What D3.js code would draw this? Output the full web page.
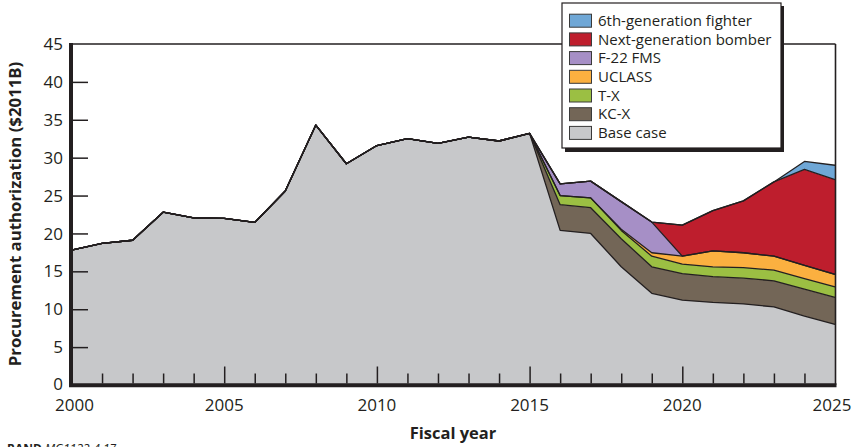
<!DOCTYPE html>
<html>
<head>
<meta charset="utf-8">
<script src="https://cdn.jsdelivr.net/npm/d3@7"></script>
<style>
  html, body { margin: 0; padding: 0; background: #fff; }
  svg { display: block; font-family: "Open Sans", "Noto Sans", sans-serif; }
</style>
</head>
<body>
<svg id="chart" width="856" height="447"></svg>
<script>
// ---- Data ----
const years = d3.range(2000, 2026);
const baseCase = [17.8, 18.7, 19.1, 22.8, 22.05, 22.0, 21.45, 25.6, 34.3, 29.2, 31.6, 32.5, 31.9, 32.7, 32.2, 33.2,
                  20.4, 20.0, 15.6, 12.1, 11.2, 10.9, 10.7, 10.3, 9.1, 8.0];
const kcx      = [0,0,0,0,0,0,0,0,0,0,0,0,0,0,0,0, 3.4, 3.4, 3.7, 3.5, 3.5, 3.4, 3.4, 3.45, 3.55, 3.55];
const tx       = [0,0,0,0,0,0,0,0,0,0,0,0,0,0,0,0, 1.2, 1.3, 1.1, 1.4, 1.25, 1.3, 1.4, 1.4, 1.4, 1.4];
const uclass   = [0,0,0,0,0,0,0,0,0,0,0,0,0,0,0,0, 0, 0, 0.15, 0.45, 1.05, 2.1, 1.95, 1.85, 1.75, 1.65];
const f22fms   = [0,0,0,0,0,0,0,0,0,0,0,0,0,0,0,0, 1.55, 2.2, 3.65, 4.05, 0, 0, 0, 0, 0, 0];
const bomber   = [0,0,0,0,0,0,0,0,0,0,0,0,0,0,0,0, 0, 0, 0, 0, 4.1, 5.3, 6.85, 9.8, 12.65, 12.5];
const fighter  = [0,0,0,0,0,0,0,0,0,0,0,0,0,0,0,0, 0, 0, 0, 0, 0, 0, 0, 0, 1.05, 1.9];

const seriesKeys   = ["base", "kcx", "tx", "uclass", "f22", "bomber", "fighter"];
const seriesNames  = ["Base case", "KC-X", "T-X", "UCLASS", "F-22 FMS", "Next-generation bomber", "6th-generation fighter"];
const seriesColors = ["#c7c8ca", "#736657", "#9bbf43", "#fbb040", "#a68fc6", "#be1e2d", "#6fa7d6"];
const seriesValues = [baseCase, kcx, tx, uclass, f22fms, bomber, fighter];

const yTicks = [0, 5, 10, 15, 20, 25, 30, 35, 40, 45];
const xLabels = [2000, 2005, 2010, 2015, 2020, 2025];

// ---- Build table ----
const table = years.map((yr, i) => {
  const row = { year: yr };
  seriesKeys.forEach((k, j) => row[k] = seriesValues[j][i]);
  return row;
});

const svg = d3.select("#chart");
const x = d3.scaleLinear().domain([2000, 2025]).range([71.5, 835]);
const y = d3.scaleLinear().domain([0, 45]).range([385, 44]);

const stacked = d3.stack().keys(seriesKeys)(table);

const area = d3.area()
  .x(d => x(d.data.year))
  .y0(d => y(d[0]))
  .y1(d => y(d[1]));
const topLine = d3.line()
  .x(d => x(d.data.year))
  .y(d => y(d[1]));

const g = svg.append("g");
g.selectAll("path.area")
  .data(stacked)
  .join("path")
  .attr("class", "area")
  .attr("d", area)
  .attr("fill", (d, i) => seriesColors[i]);

g.selectAll("path.top")
  .data(stacked)
  .join("path")
  .attr("class", "top")
  .attr("d", topLine)
  .attr("fill", "none")
  .attr("stroke", "#231f20")
  .attr("stroke-width", 1.3)
  .attr("stroke-linejoin", "round");

// ---- Frame ----
svg.append("line").attr("x1", 71.5).attr("x2", 835.5).attr("y1", 44).attr("y2", 44)
  .attr("stroke", "#231f20").attr("stroke-width", 1.5);
svg.append("line").attr("x1", 835.5).attr("x2", 835.5).attr("y1", 44).attr("y2", 385)
  .attr("stroke", "#231f20").attr("stroke-width", 1.6);

// Y ticks (inward)
const yAxis = d3.axisRight(y).tickValues(yTicks.filter(t => t > 0 && t < 45)).tickSize(17).tickFormat("");
const yAx = svg.append("g").attr("transform", "translate(71,0)").call(yAxis);
yAx.select(".domain").remove();
yAx.selectAll("line").attr("stroke", "#231f20").attr("stroke-width", 1.5);

// Y tick labels
svg.append("g").selectAll("text")
  .data(yTicks)
  .join("text")
  .attr("x", 63)
  .attr("y", d => y(d) - (d === 0 ? 1.5 : 0))
  .attr("dy", "0.36em")
  .attr("text-anchor", "end")
  .attr("font-size", 17)
  .attr("fill", "#231f20")
  .text(d => d);

// X ticks (inward / upward)
const xAxisMinor = d3.axisTop(x).tickValues(years.filter(v => v % 5 !== 0)).tickSize(10).tickFormat("");
const xMinor = svg.append("g").attr("transform", "translate(0,383.5)").call(xAxisMinor);
xMinor.select(".domain").remove();
xMinor.selectAll("line").attr("stroke", "#231f20").attr("stroke-width", 1.5);
const xAxisMajor = d3.axisTop(x).tickValues(xLabels.filter(v => v > 2000 && v < 2025)).tickSize(17).tickFormat("");
const xMajor = svg.append("g").attr("transform", "translate(0,383.5)").call(xAxisMajor);
xMajor.select(".domain").remove();
xMajor.selectAll("line").attr("stroke", "#231f20").attr("stroke-width", 1.5);

// Thick axes
svg.append("line").attr("x1", 71).attr("x2", 71).attr("y1", 43).attr("y2", 387)
  .attr("stroke", "#231f20").attr("stroke-width", 4);
svg.append("line").attr("x1", 69).attr("x2", 836.5).attr("y1", 385.2).attr("y2", 385.2)
  .attr("stroke", "#231f20").attr("stroke-width", 4);

// X labels
svg.append("g").selectAll("text")
  .data(xLabels)
  .join("text")
  .attr("x", d => x(d) + (d === 2000 ? 3 : d === 2025 ? -3 : 0))
  .attr("y", 411)
  .attr("text-anchor", "middle")
  .attr("font-size", 17)
  .attr("fill", "#231f20")
  .text(d => d);

// Axis titles
svg.append("text")
  .attr("x", 453).attr("y", 439)
  .attr("text-anchor", "middle")
  .attr("font-size", 16.5)
  .attr("font-weight", "bold")
  .attr("fill", "#231f20")
  .text("Fiscal year");

svg.append("text")
  .attr("transform", "translate(21,214) rotate(-90)")
  .attr("text-anchor", "middle")
  .attr("font-size", 16.8)
  .attr("font-weight", "bold")
  .attr("fill", "#231f20")
  .text("Procurement authorization ($2011B)");

// Source note (cut off at bottom, as in the reference)
const note = svg.append("text").attr("x", 7).attr("y", 452.5).attr("font-size", 12).attr("fill", "#231f20");
note.append("tspan").attr("font-weight", "bold").text("RAND ");
note.append("tspan").attr("font-style", "italic").text("MG1133-4.17");

// ---- Legend ----
const lg = svg.append("g");
lg.append("rect").attr("x", 565).attr("y", 6).attr("width", 219).attr("height", 146).attr("fill", "#231f20");
lg.append("rect").attr("x", 562).attr("y", 3).attr("width", 219).attr("height", 145)
  .attr("fill", "#fff").attr("stroke", "#231f20").attr("stroke-width", 1.2);

const legendOrder = d3.range(seriesKeys.length).reverse();
const items = lg.selectAll("g.item")
  .data(legendOrder)
  .join("g")
  .attr("class", "item")
  .attr("transform", (d, i) => `translate(0, ${20.7 + i * 18.7})`);
items.append("rect")
  .attr("x", 569.5).attr("y", -6.5).attr("width", 22).attr("height", 13)
  .attr("fill", d => seriesColors[d])
  .attr("stroke", "#3a3a3a").attr("stroke-width", 1);
items.append("text")
  .attr("x", 598).attr("y", 0).attr("dy", "0.35em")
  .attr("font-size", 15)
  .attr("fill", "#231f20")
  .text(d => seriesNames[d]);
</script>
</body>
</html>
